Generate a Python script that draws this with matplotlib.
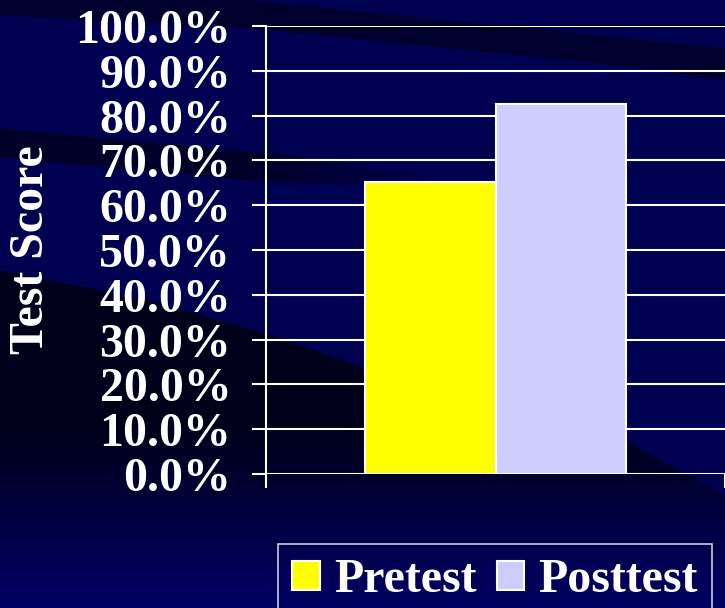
import numpy as np
import matplotlib
matplotlib.use("Agg")
import matplotlib.pyplot as plt
from matplotlib.ticker import FuncFormatter

# data
series = ["Pretest", "Posttest"]
scores = [0.651, 0.826]
bar_colors = ["#FFFF00", "#CCCCFF"]
y_ticks = [0.0, 0.1, 0.2, 0.3, 0.4, 0.5, 0.6, 0.7, 0.8, 0.9, 1.0]

W, H = 725, 608
plt.rcParams['font.family'] = ['Liberation Serif', 'DejaVu Serif']
plt.rcParams['font.weight'] = 'bold'


def make_background():
    # slide-style navy background with darker diagonal swooshes
    yy, xx = np.mgrid[0:H, 0:W].astype(float)
    x = np.arange(W, dtype=float)
    blue = np.full((H, W), 80.0)

    # top band
    up = np.interp(x, [0, 250, 725], [-5, 0, 48])
    lo = np.interp(x, [0, 250, 600, 725], [15, 28, 63, 80])
    band = (yy >= up) & (yy <= lo)
    blue[band] = 46

    # short band on the left
    up = np.interp(x, [0, 270, 450], [128, 153, 178])
    lo = np.interp(x, [0, 270, 450], [157, 182, 186])
    band = (yy >= up) & (yy <= lo) & (xx < 450)
    fade = np.clip((xx - 250) / 200, 0, 1)
    blue = np.where(band, 40 + 40 * fade, blue)

    # big dark sweep with a gradient toward the bottom
    edge = np.interp(x, [0, 150, 270, 400, 630, 725], [270, 300, 335, 380, 443, 495])
    grad = np.interp(yy, [250, 420, 460, 520, 608], [26, 26, 38, 66, 100])
    blue = np.where(yy >= edge, grad, blue)

    img = np.zeros((H, W, 3))
    img[..., 2] = blue / 255.0
    return img


fig = plt.figure(figsize=(W / 100, H / 100), dpi=100)
bg = fig.add_axes([0, 0, 1, 1], zorder=-10)
bg.imshow(make_background(), aspect='auto', interpolation='bilinear')
bg.axis('off')

ax = fig.add_axes([266 / W, 1 - 474 / H, 459 / W, 448 / H])
ax.patch.set_alpha(0)

width = 0.285
xpos = [-width / 2, width / 2]
for xp, val, col, name in zip(xpos, scores, bar_colors, series):
    ax.bar(xp, val, width=width, color=col, edgecolor='white', linewidth=1.5,
           label=name, zorder=3)

ax.set_xlim(-0.5, 0.5)
ax.set_ylim(0, 1.0)
ax.set_yticks(y_ticks)
ax.yaxis.set_major_formatter(FuncFormatter(lambda v, p: f"{v * 100:.1f}%"))
ax.set_xticks([-0.5, 0.5])
ax.set_xticklabels([])
ax.grid(axis='y', color='white', linewidth=1.5, zorder=1)
ax.set_axisbelow(True)
for side in ['top', 'right', 'bottom']:
    ax.spines[side].set_visible(False)
ax.spines['left'].set_color('white')
ax.spines['left'].set_linewidth(1.5)
ax.tick_params(axis='y', direction='out', length=10, width=1.5, color='white',
               labelcolor='white', labelsize=34.5, pad=15)
ax.tick_params(axis='x', direction='out', length=10, width=1.5, color='white')
for lab in ax.get_yticklabels():
    lab.set_fontweight('bold')

fig.text(31 / W, 1 - 250 / H, "Test Score", rotation=90, ha='center', va='center',
         color='white', fontsize=34.5, fontweight='bold')

leg = fig.legend(loc='upper left', bbox_to_anchor=(278 / W, 1 - 544 / H),
                 ncol=2, frameon=True, fancybox=False, borderaxespad=0,
                 borderpad=0.3, handlelength=0.57, handleheight=0.57,
                 handletextpad=0.3, columnspacing=0.42,
                 prop={'size': 34.5, 'weight': 'bold'})
leg.get_frame().set_facecolor('none')
leg.get_frame().set_edgecolor('white')
leg.get_frame().set_linewidth(1.2)
for t in leg.get_texts():
    t.set_color('white')

fig.savefig("out.png", dpi=100, facecolor='#000050')
